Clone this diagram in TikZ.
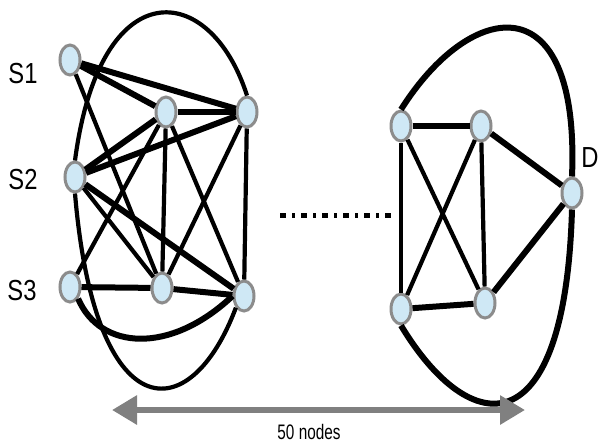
\documentclass[tikz,border=0pt]{standalone}
\usepackage{fontspec}
\setmainfont{Liberation Sans}
\usetikzlibrary{shapes.geometric,arrows.meta}
\definecolor{nodefill}{HTML}{CFE8F5}
\definecolor{nodeline}{HTML}{8C8C8C}
\definecolor{arrowgray}{HTML}{808080}
\begin{document}
\begin{tikzpicture}[x=1pt,y=-1pt,
  vtx/.style={ellipse,draw=nodeline,fill=nodefill,line width=3pt,minimum width=20pt,minimum height=30pt,inner sep=0pt},
  thk/.style={line width=6pt},
  thn/.style={line width=4.2pt},
  lbl/.style={font=\fontsize{29}{29}\selectfont,inner sep=0pt},
  captext/.style={font=\fontsize{21}{21}\selectfont,inner sep=0pt}]
\useasboundingbox (0,0) rectangle (601,445);
% left cluster
\node[vtx] (S1) at (70,60) {};
\node[vtx] (S2) at (75,177) {};
\node[vtx] (S3) at (70,287) {};
\node[vtx] (A) at (166,112) {};
\node[vtx] (B) at (247,112) {};
\node[vtx] (C) at (162,288) {};
\node[vtx] (E) at (244,296) {};
% right cluster
\node[vtx] (F) at (401,126) {};
\node[vtx] (G) at (481,126) {};
\node[vtx] (D) at (572,193) {};
\node[vtx] (H) at (401,309) {};
\node[vtx] (I) at (485,303) {};
% labels
\node[lbl] (l1) at (23,74) {\scalebox{0.82}[1]{S1}};
\node[lbl] (l2) at (23,180) {\scalebox{0.82}[1]{S2}};
\node[lbl] (l3) at (22,291) {\scalebox{0.82}[1]{S3}};
\node[lbl] (lD) at (590,158) {\scalebox{0.82}[1]{D}};
% left edges
\draw[thk] (S1) -- (B);
\draw[thk] (S1) -- (A);
\draw[thn] (S1) -- (C);
\draw[thk] (A) -- (B);
\draw[thk] (S2) -- (A);
\draw[thk] (S2) -- (B);
\draw[thn] (S2) -- (C);
\draw[thk] (S2) -- (E);
\draw[thn] (S3) -- (A);
\draw[thk] (S3) -- (C);
\draw[thn] (A) -- (C);
\draw[thn] (A) -- (E);
\draw[thn] (B) -- (C);
\draw[thn] (B) -- (E);
\draw[thk] (C) -- (E);
\draw[thn] (B.north) .. controls (210,-20) and (100,-30) .. (S2.north);
\draw[thn] (S2.south) .. controls (95,430) and (190,430) .. (E.south west);
\draw[thk] (S3.south east) .. controls (100,350) and (170,355) .. (E.west);
% right edges
\draw[thk] (F) -- (G);
\draw[thn] (F) -- (H);
\draw[thn] (F) -- (I);
\draw[thn] (G) -- (H);
\draw[thn] (G) -- (I);
\draw[thk] (G) -- (D);
\draw[thk] (H) -- (I);
\draw[thk] (I) -- (D);
\draw[thk] (F.north) .. controls (470,0) and (580,-20) .. (D.north);
\draw[thk] (H.south) .. controls (470,440) and (565,450) .. (D.south);
% dotted gap
\coordinate (g1) at (280,215);
\coordinate (g2) at (395,215);
\draw[line width=5pt,dash pattern=on 6pt off 6pt on 3pt off 6pt] (g1) -- (g2);
% arrow
\coordinate (a1) at (112,410);
\coordinate (a2) at (525,410);
\draw[arrowgray,line width=6pt,{Triangle[length=25pt,width=28pt]}-{Triangle[length=25pt,width=28pt]}] (a1) -- (a2);
\node[captext] (n50) at (309,432) {\scalebox{0.73}[1]{50 nodes}};
\end{tikzpicture}
\end{document}
